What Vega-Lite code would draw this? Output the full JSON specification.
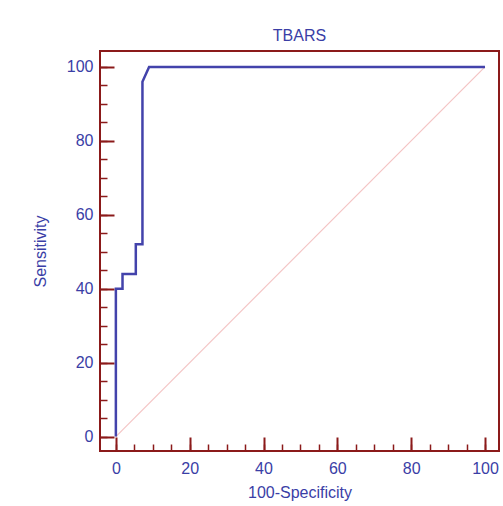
{
  "$schema": "https://vega.github.io/schema/vega-lite/v6.json",
  "autosize": "none",
  "width": 399,
  "height": 400,
  "padding": {"left": 100, "top": 51, "right": 4, "bottom": 55},
  "background": "white",
  "title": {"text": "TBARS", "color": "#3a3ea6", "font": "Liberation Sans", "fontSize": 16, "fontWeight": "normal", "offset": 7, "anchor": "middle"},
  "config": {
    "view": {"stroke": "#8b1a1a", "strokeWidth": 2},
    "axis": {"grid": false, "font": "Liberation Sans", "labelFont": "Liberation Sans", "titleFont": "Liberation Sans"}
  },
  "datasets": {
    "roc": [
      {"i": 0, "fpr": 0, "sens": 0},
      {"i": 1, "fpr": 0, "sens": 40},
      {"i": 2, "fpr": 1.8, "sens": 40},
      {"i": 3, "fpr": 1.8, "sens": 44},
      {"i": 4, "fpr": 5.4, "sens": 44},
      {"i": 5, "fpr": 5.4, "sens": 52},
      {"i": 6, "fpr": 7.2, "sens": 52},
      {"i": 7, "fpr": 7.2, "sens": 96},
      {"i": 8, "fpr": 9.0, "sens": 100},
      {"i": 9, "fpr": 100, "sens": 100}
    ],
    "diag": [
      {"i": 0, "fpr": 0, "sens": 0},
      {"i": 1, "fpr": 100, "sens": 100}
    ]
  },
  "layer": [
    {
      "data": {"name": "diag"},
      "mark": {"type": "line", "color": "#f4c4c4", "strokeWidth": 1.2},
      "encoding": {
        "x": {"field": "fpr", "type": "quantitative", "scale": {"domain": [-4.3, 103.8], "nice": false, "zero": false},
          "axis": {"orient": "bottom", "values": [0,5,10,15,20,25,30,35,40,45,50,55,60,65,70,75,80,85,90,95,100], "labels": false, "domain": false, "title": null, "tickSize": -7, "tickColor": "#8b1a1a", "tickWidth": 1.5}},
        "y": {"field": "sens", "type": "quantitative", "scale": {"domain": [-3.9, 104.3], "nice": false, "zero": false},
          "axis": {"orient": "left", "values": [0,5,10,15,20,25,30,35,40,45,50,55,60,65,70,75,80,85,90,95,100], "labels": false, "domain": false, "title": null, "tickSize": -7, "tickColor": "#8b1a1a", "tickWidth": 1.5}},
        "order": {"field": "i"}
      }
    },
    {
      "data": {"name": "roc"},
      "mark": {"type": "line", "color": "#4343ab", "strokeWidth": 2.5},
      "encoding": {
        "x": {"field": "fpr", "type": "quantitative",
          "axis": {"orient": "bottom", "values": [0,20,40,60,80,100], "title": "100-Specificity", "domain": false, "tickSize": -14, "tickColor": "#8b1a1a", "tickWidth": 2, "labelPadding": 23, "labelFontSize": 16, "labelColor": "#3a3ea6", "titleFontSize": 16, "titleFontWeight": "normal", "titleColor": "#3a3ea6", "titlePadding": 8}},
        "y": {"field": "sens", "type": "quantitative",
          "axis": {"orient": "left", "values": [0,20,40,60,80,100], "title": "Sensitivity", "domain": false, "tickSize": -14, "tickColor": "#8b1a1a", "tickWidth": 2, "labelPadding": 21, "labelFontSize": 16, "labelColor": "#3a3ea6", "titleFontSize": 16, "titleFontWeight": "normal", "titleColor": "#3a3ea6", "titlePadding": 18}},
        "order": {"field": "i"}
      }
    }
  ],
  "resolve": {"axis": {"x": "independent", "y": "independent"}}
}
